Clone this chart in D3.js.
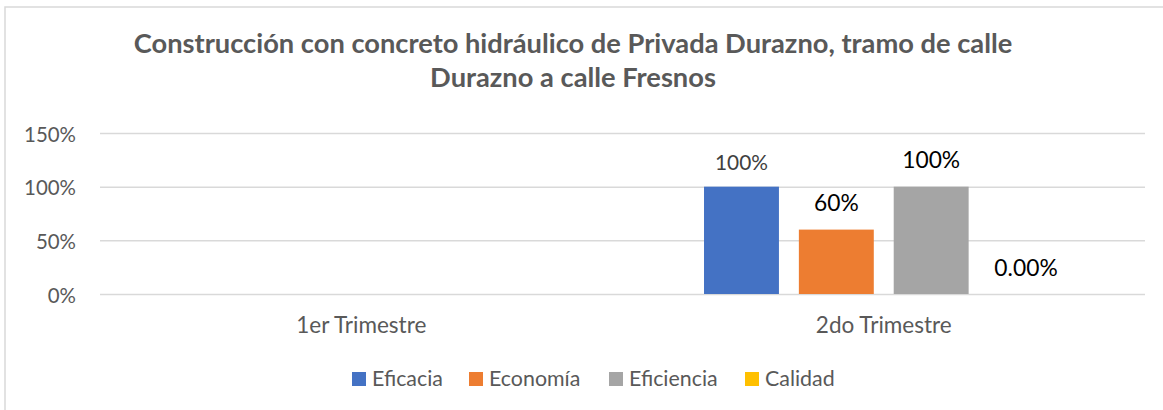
<!DOCTYPE html>
<html><head><meta charset="utf-8">
<script src="https://cdn.jsdelivr.net/npm/d3@7"></script>
<style>body{margin:0;background:#fff}svg{display:block}text{font-family:Lato,"Open Sans",sans-serif}</style>
</head><body>
<svg id="c" width="1163" height="410"></svg>
<script>
const categories = ["1er Trimestre", "2do Trimestre"];
const seriesNames = ["Eficacia", "Economía", "Eficiencia", "Calidad"];
const seriesColors = ["#4472C4", "#ED7D31", "#A5A5A5", "#FFC000"];
const values = [
  [null, null, null, null],
  [1.0, 0.6, 1.0, 0.0]
];
const valueLabels = [
  [null, null, null, null],
  ["100%", "60%", "100%", "0.00%"]
];
const yTicks = [0, 0.5, 1.0, 1.5];
const titleLines = ["Construcción con concreto hidráulico de Privada Durazno, tramo de calle", "Durazno a calle Fresnos"];

(function(){
const svg = d3.select("#c");
// fit a text element's font-size so its width matches a target width
function fit(sel, target) {
  sel.attr("font-size", 20);
  const w = sel.node().getComputedTextLength();
  sel.attr("font-size", 20 * target / w);
  return +sel.attr("font-size");
}
function sizeFor(text, target, weight) {
  const t = svg.append("text").attr("font-weight", weight || "normal").text(text);
  const s = fit(t, target);
  t.remove();
  return s;
}

svg.append("rect").attr("x",5).attr("y",7).attr("width",1170).attr("height",420)
  .attr("fill","#fff").attr("stroke","#d9d9d9").attr("stroke-width",1.5);

const pL = 100, pR = 1145, pT = 133, pB = 294;
const x0 = d3.scaleBand().domain(categories).range([pL, pR]);
const y = d3.scaleLinear().domain([0, 1.5]).range([pB, pT]);
const x1 = d3.scaleBand().domain(seriesNames).range([0, x0.bandwidth()*0.688]).paddingInner(0.21);
const groupOffset = (x0.bandwidth() - x0.bandwidth()*0.688)/2;

const titleSize = sizeFor(titleLines[0], 879, "bold");
svg.append("g").selectAll("text").data(titleLines).join("text")
  .attr("x", 573).attr("y", (d,i)=>53+i*34).attr("text-anchor","middle")
  .attr("font-weight","bold").attr("fill","#595959").attr("font-size", titleSize).text(d=>d);

const tickSize = sizeFor("150%", 52);
const yAxis = d3.axisLeft(y).tickValues(yTicks).tickFormat(d3.format(".0%")).tickSize(-(pR-pL)).tickPadding(24);
const ga = svg.append("g").attr("transform",`translate(${pL},0)`).call(yAxis);
ga.select(".domain").remove();
ga.selectAll(".tick line").attr("stroke","#d9d9d9").attr("stroke-width",1.5);
ga.selectAll(".tick text").attr("fill","#595959").attr("font-family","Lato,'Open Sans',sans-serif")
  .attr("dy","0.4em").attr("font-size", tickSize);

const catSize = sizeFor(categories[1], 136);
const xAxis = d3.axisBottom(x0).tickSize(0).tickPadding(0);
const gx = svg.append("g").attr("transform",`translate(0,${pB})`).call(xAxis);
gx.select(".domain").remove();
gx.selectAll(".tick text").attr("fill","#595959").attr("font-family","Lato,'Open Sans',sans-serif")
  .attr("y", 39).attr("dy", 0).attr("font-size", catSize);

const firstLabelSize = sizeFor("100%", 53);
const labelSize = sizeFor("100%", 58);
categories.forEach((c, ci) => {
  const g = svg.append("g").attr("transform",`translate(${x0(c)+groupOffset},0)`);
  seriesNames.forEach((s, si) => {
    const v = values[ci][si];
    if (v === null) return;
    g.append("rect").attr("x", x1(s)).attr("width", x1.bandwidth())
      .attr("y", y(v)).attr("height", y(0)-y(v)).attr("fill", seriesColors[si]);
    const first = si === 0;
    g.append("text").attr("x", x1(s)+x1.bandwidth()/2)
      .attr("y", v === 0 ? y(0) - 18 : y(v) - (first ? 17 : 19))
      .attr("text-anchor","middle")
      .attr("fill", first ? "#404040" : "#000")
      .attr("font-size", first ? firstLabelSize : labelSize)
      .text(valueLabels[ci][si]);
  });
});

const legendSize = sizeFor(seriesNames[0], 71);
const legendX = [352, 469, 609, 745];
const lg = svg.append("g");
seriesNames.forEach((s, i) => {
  lg.append("rect").attr("x", legendX[i]).attr("y", 372).attr("width", 14).attr("height", 14).attr("fill", seriesColors[i]);
  lg.append("text").attr("x", legendX[i]+20).attr("y", 386).attr("fill","#595959").attr("font-size", legendSize).text(s);
});
})();
</script>
</body></html>
